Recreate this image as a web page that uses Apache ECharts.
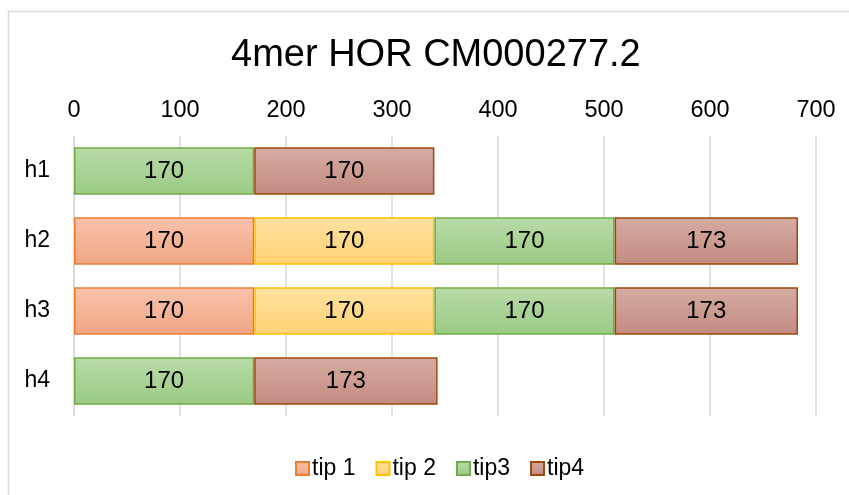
<!DOCTYPE html>
<html>
<head>
<meta charset="utf-8">
<script src="https://cdn.jsdelivr.net/npm/echarts@6/dist/echarts.min.js"></script>
<style>
  html, body { margin: 0; padding: 0; background: #fff; }
  #chart { width: 849px; height: 495px; }
</style>
</head>
<body>
<div id="chart"></div>
<script>
// Repeat lengths per HOR copy, stacked by monomer type
const categories = ['h1', 'h2', 'h3', 'h4'];
const seriesNames = ['tip 1', 'tip 2', 'tip3', 'tip4'];
const tip1 = [null, 170, 170, null];
const tip2 = [null, 170, 170, null];
const tip3 = [170, 170, 170, 170];
const tip4 = [170, 173, 173, 173];
const xTicks = { min: 0, max: 700, interval: 100 };

const FONT = 'Liberation Sans, Arial, sans-serif';

// Fill gradient (top -> bottom) and outline colour for each series
const palette = [
  { top: '#f9c3ab', bottom: '#f0a684', border: '#ED7D31' },
  { top: '#ffe2a2', bottom: '#ffd173', border: '#FFC000' },
  { top: '#b8dba8', bottom: '#9bca84', border: '#70AD47' },
  { top: '#d6aca3', bottom: '#c28b80', border: '#9E480E' }
];

function grad(c) {
  return new echarts.graphic.LinearGradient(0, 0, 0, 1, [
    { offset: 0, color: c.top },
    { offset: 1, color: c.bottom }
  ]);
}

const values = [tip1, tip2, tip3, tip4];

const series = seriesNames.map((name, i) => ({
  name: name,
  type: 'bar',
  stack: 'total',
  barCategoryGap: '32%',
  data: values[i],
  itemStyle: {
    color: grad(palette[i]),
    borderColor: palette[i].border,
    borderWidth: 1.5
  },
  label: {
    show: true,
    position: 'inside',
    color: '#000',
    fontSize: 24,
    fontFamily: FONT
  },
  emphasis: { disabled: true }
}));

const chart = echarts.init(document.getElementById('chart'), null, { renderer: 'canvas' });

chart.setOption({
  animation: false,
  backgroundColor: '#fff',
  title: {
    text: '4mer HOR CM000277.2',
    left: 226,
    top: 32,
    textStyle: { fontSize: 38, fontWeight: 'normal', color: '#000', fontFamily: FONT }
  },
  grid: { left: 74, right: 33, top: 136, bottom: 79 },
  xAxis: {
    type: 'value',
    position: 'top',
    min: xTicks.min,
    max: xTicks.max,
    interval: xTicks.interval,
    axisLine: { show: false },
    axisTick: { show: false },
    axisLabel: { color: '#000', fontSize: 23.5, fontFamily: FONT, margin: 13 },
    splitLine: { show: true, lineStyle: { color: '#d9d9d9', width: 1.5 } }
  },
  yAxis: {
    type: 'category',
    inverse: true,
    data: categories,
    axisLine: { show: true, lineStyle: { color: '#d9d9d9', width: 1.5 } },
    axisTick: { show: false },
    axisLabel: { color: '#000', fontSize: 23, fontFamily: FONT, margin: 24 }
  },
  legend: {
    bottom: 10,
    left: 290,
    itemWidth: 13,
    itemHeight: 13,
    itemGap: 20,
    icon: 'rect',
    textStyle: { color: '#000', fontSize: 23, fontFamily: FONT, padding: [0, 0, 0, -2] },
    data: seriesNames
  },
  graphic: [{
    type: 'rect',
    silent: true,
    shape: { x: 8.5, y: 11.5, width: 900, height: 600 },
    style: { fill: 'none', stroke: '#d9d9d9', lineWidth: 1.5 }
  }],
  series: series
});
</script>
</body>
</html>
